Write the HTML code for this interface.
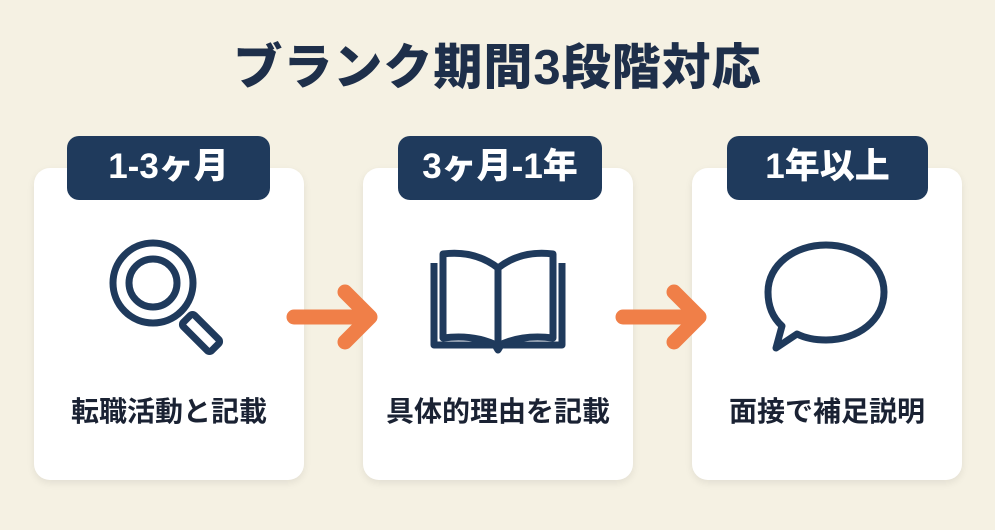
<!DOCTYPE html>
<html><head><meta charset="utf-8"><style>
body{margin:0;width:995px;height:530px;background:#f5f1e3;position:relative;overflow:hidden;font-family:"Liberation Sans","Noto Sans CJK JP",sans-serif;}
.t{position:absolute;left:0;width:995px;top:28px;text-align:center;font-size:49px;font-weight:900;color:#1e2f4a;letter-spacing:1px}
.card{position:absolute;top:168px;width:270px;height:312px;background:#fff;border-radius:16px;box-shadow:0 3px 8px rgba(0,0,0,.08)}
.b{position:absolute;top:136px;height:64px;background:#1f3a5c;border-radius:12px;color:#fff;font-size:35px;font-weight:900;text-align:center;line-height:62px}
.l{position:absolute;top:390px;width:270px;text-align:center;font-size:28px;font-weight:700;color:#1a2233}
</style></head><body>
<div class="t">ブランク期間3段階対応</div>
<div class="card" style="left:34px"></div>
<div class="card" style="left:363px"></div>
<div class="card" style="left:692px"></div>
<div class="b" style="left:67px;width:203px">1-3ヶ月</div>
<div class="b" style="left:398px;width:204px">3ヶ月-1年</div>
<div class="b" style="left:727px;width:201px">1年以上</div>
<div class="l" style="left:34px">転職活動と記載</div>
<div class="l" style="left:363px">具体的理由を記載</div>
<div class="l" style="left:692px">面接で補足説明</div>
<svg width="995" height="530" style="position:absolute;left:0;top:0">
<g stroke="#f07f48" stroke-width="15" stroke-linecap="round" stroke-linejoin="round" fill="none">
<path d="M294 317H370M345 292L370 317L345 342"/>
<path d="M623 317H699M674 292L699 317L674 342"/>
</g>
<g stroke="#1f3a5c" stroke-width="7" fill="none" stroke-linejoin="round">
<circle cx="153" cy="283" r="40"/>
<circle cx="153" cy="283" r="24"/>
<rect x="193" y="313" width="16" height="40" rx="3" transform="rotate(-45 201 333)"/>
<path d="M434 263V345H495L498 350L501 345H562V263"/>
<path d="M443 338V254Q475 250 498 268Q521 250 553 254V338Q521 334 498 346Q475 334 443 338Z"/>
<path d="M498 268V346"/>
<path d="M826 245C858 245 884 265 884 292C884 320 858 340 826 340C815 340 805 338 797 334L776 348L782 326C772 317 768 305 768 292C768 265 794 245 826 245Z"/>
</g>
</svg>
</body></html>
